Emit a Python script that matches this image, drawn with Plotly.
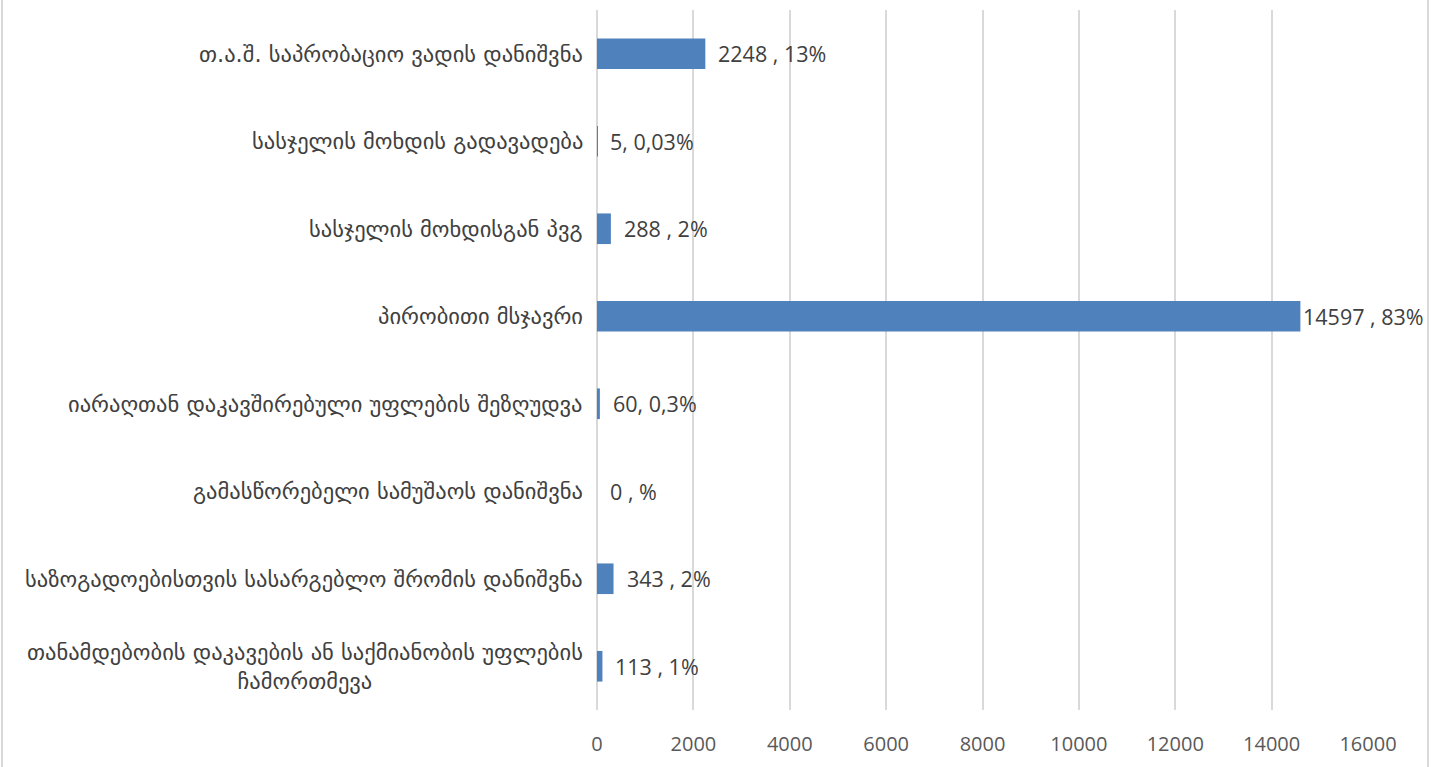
import plotly.graph_objects as go

# Sentence types (top to bottom) with counts and shares
categories = [
    "თ.ა.შ. საპრობაციო ვადის დანიშვნა",
    "სასჯელის მოხდის გადავადება",
    "სასჯელის მოხდისგან პვგ",
    "პირობითი მსჯავრი",
    "იარაღთან დაკავშირებული უფლების შეზღუდვა",
    "გამასწორებელი სამუშაოს დანიშვნა",
    "საზოგადოებისთვის სასარგებლო შრომის დანიშვნა",
    "თანამდებობის დაკავების ან საქმიანობის უფლების<br>ჩამორთმევა",
]
counts = [2248, 5, 288, 14597, 60, 0, 343, 113]
labels = ["2248 , 13%", "5, 0,03%", "288 , 2%", "14597 , 83%",
          "60, 0,3%", "0 , %", "343 , 2%", "113 , 1%"]
x_ticks = [0, 2000, 4000, 6000, 8000, 10000, 12000, 14000, 16000]

BAR = "#4F81BD"
GRID = "#D9D9D9"
TEXT = "#404040"
X_MAX = 16000

fig = go.Figure(go.Bar(
    y=categories,
    x=counts,
    orientation="h",
    width=0.35,
    marker=dict(color=BAR, line=dict(width=0)),
    hoverinfo="skip",
))

# Value labels right of each bar end; labels that would run past the frame sit closer
for cat, val, lab in zip(categories, counts, labels):
    fig.add_annotation(
        x=val, y=cat, xref="x", yref="y",
        text=lab, showarrow=False, xanchor="left", yanchor="middle",
        xshift=1 if val > 0.85 * X_MAX else 11,
        font=dict(family="Open Sans, DejaVu Sans, sans-serif", size=21.5, color=TEXT),
    )

# Category names, centred when wrapped, right-aligned against the axis
for cat in categories:
    fig.add_annotation(
        x=0, y=cat, xref="paper", yref="y",
        text=cat, showarrow=False, xanchor="right", yanchor="middle",
        align="center", xshift=-12,
        font=dict(family="DejaVu Sans, sans-serif", size=22.5, color=TEXT),
    )

# Light frame lines at the sides of the chart
for xp in (-0.7717, 1.0778):
    fig.add_shape(type="line", xref="paper", yref="paper",
                  x0=xp, x1=xp, y0=-0.2, y1=1.2,
                  line=dict(color=GRID, width=2))

fig.update_layout(
    width=1435, height=767,
    margin=dict(l=597, r=67, t=10, b=57),
    paper_bgcolor="white", plot_bgcolor="white",
    showlegend=False,
    xaxis=dict(
        range=[0, X_MAX], tickvals=x_ticks, ticktext=[str(t) for t in x_ticks],
        showgrid=True, gridcolor=GRID, gridwidth=2,
        zeroline=True, zerolinecolor=GRID, zerolinewidth=2,
        showline=False, ticks="", ticklabelstandoff=20,
        tickfont=dict(family="Open Sans, DejaVu Sans, sans-serif", size=20, color="#595959"),
        fixedrange=True,
    ),
    yaxis=dict(
        autorange="reversed", showticklabels=False, showgrid=False,
        zeroline=False, showline=False, ticks="", fixedrange=True,
    ),
)

fig.write_html("out.html")
